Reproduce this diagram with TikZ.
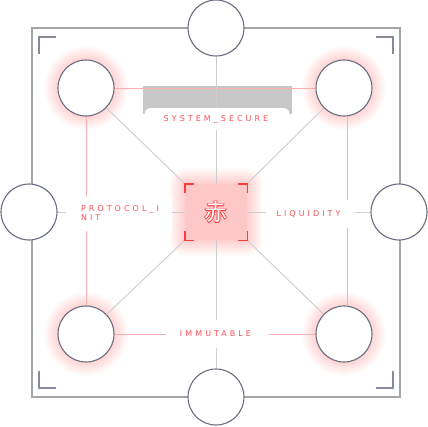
\documentclass[tikz,border=0pt]{standalone}
\usepackage{fontspec}
\usetikzlibrary{positioning}
\newfontfamily\tagfont[LetterSpace=38]{DejaVu Sans}
\newfontfamily\cjkfont{Noto Sans CJK SC}
\definecolor{ringgray}{RGB}{104,110,128}
\definecolor{framegray}{RGB}{165,165,165}
\definecolor{linkgray}{RGB}{205,205,205}
\definecolor{linkred}{RGB}{255,175,175}
\definecolor{tagred}{RGB}{255,80,90}
\definecolor{corered}{RGB}{255,60,60}
\definecolor{corefill}{RGB}{255,200,200}

\begin{document}
\begin{tikzpicture}[x = 1pt, y = -1pt,
		hub/.style = {circle, draw = ringgray, line width = 1.1pt, fill = white, minimum size = 56pt, inner sep = 0pt},
		core/.style = {rectangle, fill = corefill, minimum width = 62pt, minimum height = 56pt, inner sep = 0pt},
		redlink/.style = {draw = linkred, line width = 0.9pt},
		graylink/.style = {draw = linkgray, line width = 0.9pt},
		tag/.style = {rectangle, fill = white, text = tagred, font = \tagfont\fontsize{8}{9.5}\selectfont, inner sep = 0pt},
		bracket/.style = {draw = ringgray!80, line width = 1.1pt},
		corner/.style = {draw = corered, line width = 1.4pt}]
		\useasboundingbox (0,0) rectangle (428,426);
		% Frame and its brackets
		\draw [framegray, line width = 1.1pt] (32,28) rectangle (400,397);
		\draw [bracket] (39,54) -- (39,37) -- (56,37);
		\draw [bracket] (376,37) -- (393,37) -- (393,54);
		\draw [bracket] (39,371) -- (39,388) -- (56,388);
		\draw [bracket] (376,388) -- (393,388) -- (393,371);
		% Glows
		\foreach \p in {(86,88),(344,88),(86,334),(344,334)}
			\foreach \r in {42,41,...,29}
				\fill [red, opacity = 0.011] \p circle [radius = \r];
		\foreach \d in {16,15,...,1}
			\fill [red, opacity = 0.013, rounded corners = \d pt] (185-\d,184-\d) rectangle (247+\d,240+\d);
		\fill [gray!55, opacity = 0.8] (143,86) rectangle (292,114);
		% Hubs
		\node (top) at (216,28) [hub] {};
		\node (bot) at (216,397) [hub] {};
		\node (lft) at (29,212) [hub] {};
		\node (rgt) at (399,212) [hub] {};
		\node (nw) at (86,88) [hub] {};
		\node (ne) at (344,88) [hub] {};
		\node (sw) at (86,334) [hub] {};
		\node (se) at (344,334) [hub] {};
		\node (core) at (216,212) [core] {};
		\foreach \a in {0,45,...,315}
			\node (haze\a) [text = corered, shift = {(\a:0.7)}] at (core) {\cjkfont\fontsize{23}{23}\selectfont 赤};
		\node (glyph) [text = white] at (core) {\cjkfont\fontsize{23}{23}\selectfont 赤};
		% Links
		\draw [redlink] (nw) -- (ne);
		\draw [redlink] (nw) -- (sw);
		\draw [redlink] ([xshift = 3pt]ne.south) -- ([xshift = 3pt]se.north);
		\draw [redlink] (sw) -- (se);
		\draw [graylink] (top) -- (core);
		\draw [graylink] (bot) -- (core);
		\draw [graylink] (lft) -- (core);
		\draw [graylink] (rgt) -- (core);
		\draw [graylink] (core.north west) -- (nw);
		\draw [graylink] (core.north east) -- (ne);
		\draw [graylink] (core.south west) -- (sw);
		\draw [graylink] (core.south east) -- (se);
		\draw [corner] ([yshift = -9pt]core.north west) -- (core.north west) -- ([xshift = 9pt]core.north west);
		\draw [corner] ([xshift = -9pt]core.north east) -- (core.north east) -- ([yshift = -9pt]core.north east);
		\draw [corner] ([yshift = 9pt]core.south west) -- (core.south west) -- ([xshift = 9pt]core.south west);
		\draw [corner] ([xshift = -9pt]core.south east) -- (core.south east) -- ([yshift = 9pt]core.south east);
		% Labels
		\node (secure) at (217,119) [tag, minimum width = 145pt, minimum height = 22pt, rounded corners = 6pt] {\hspace{-2pt}SYSTEM\_SECURE\hspace{-1pt}};
		\node (proto) at (119,213) [tag, text width = 76pt, inner xsep = 15pt, minimum height = 35pt, align = left] {PROTOCOL\_I\\NIT};
		\node (liq) at (310,214) [tag, minimum width = 89pt, minimum height = 28pt] {\hspace{-3pt}LIQUIDITY};
		\node (immut) at (217,334) [tag, minimum width = 103pt, minimum height = 28pt] {\hspace{-3pt}IMMUTABLE};
	\end{tikzpicture}
\end{document}
